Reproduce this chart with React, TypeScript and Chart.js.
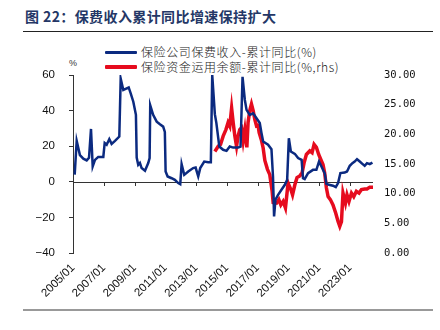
import React, { useEffect, useRef } from "react";
import { Chart, registerables } from "chart.js";

Chart.register(...registerables);

// 保险公司保费收入-累计同比(%) — left axis
const premiumDates = [
  2005.11, 2005.24, 2005.45, 2005.67, 2005.89, 2006.04, 2006.17, 2006.28, 2006.43, 2006.64, 2006.97,
  2007.06, 2007.19, 2007.36, 2007.51, 2007.73, 2008.01, 2008.1, 2008.27, 2008.49, 2008.62, 2008.75,
  2008.92, 2009.09, 2009.14, 2009.24, 2009.35, 2009.46, 2009.68, 2009.89, 2009.98, 2010.02, 2010.21,
  2010.44, 2010.65, 2010.86, 2010.97, 2011.02, 2011.15, 2011.41, 2011.62, 2011.84, 2011.97, 2012.06,
  2012.23, 2012.49, 2012.81, 2012.97, 2013.14, 2013.27, 2013.53, 2013.79, 2013.96, 2014.05, 2014.22,
  2014.32, 2014.51, 2014.76, 2014.98, 2015.19, 2015.41, 2015.73, 2015.89, 2016.02, 2016.17, 2016.28,
  2016.49, 2016.71, 2016.93, 2017.14, 2017.25, 2017.36, 2017.68, 2017.9, 2018.0, 2018.07, 2018.16,
  2018.33, 2018.55, 2018.77, 2018.92, 2019.03, 2019.16, 2019.42, 2019.63, 2019.86, 2019.95, 2020.06,
  2020.28, 2020.6, 2020.82, 2020.99, 2021.15, 2021.3, 2021.36, 2021.47, 2021.64, 2021.9, 2022.08,
  2022.23, 2022.38, 2022.66, 2022.81, 2022.99, 2023.16, 2023.31, 2023.46, 2023.64, 2023.81, 2023.96,
  2024.11, 2024.29, 2024.46,
];
const premiumYoY = [
  4, 23, 15, 13, 12, 13.5, 29.7, 8.6, 12.3, 14, 14,
  21.8, 20.8, 24, 21.3, 23, 25.4, 58, 51.6, 52.5, 53, 49.7,
  45, 37.6, 13.6, 9.5, 10.6, 7.7, 6.2, 10.5, 13.3, 43, 37.6,
  33.8, 32.3, 31, 28, 5.8, 3, 2, 1.1, -0.7, -1.3, 9.9,
  3.9, 5.8, 7.7, 8, 3, 7.7, 11.4, 11, 11, 60, 38,
  33, 19.8, 18, 17.4, 19.8, 19.2, 19.2, 19.8, 59, 46, 40.4,
  37.6, 38.5, 35.7, 33, 27.5, 22.6, 20.8, 18.3, 3, -19.5, -10,
  -7.3, -4.5, -1.7, 1.1, 24.5, 17, 15.7, 13.3, 12.3, 2, 1.5,
  4.9, 6.7, 6.7, 11.4, 8.6, 5.8, 4.9, -1.1, -1.7, -2.2, -3,
  -0.7, 4.9, 5.2, 5.8, 9, 10.5, 11.4, 12.7, 11.4, 10.1, 9,
  10.5, 9.9, 10.8,
];

// 保险资金运用余额-累计同比(%,rhs) — right axis
const fundDates = [
  2014.22, 2014.44, 2014.59, 2014.76, 2014.94, 2015.08, 2015.19, 2015.31, 2015.41, 2015.52, 2015.63,
  2015.73, 2015.84, 2015.95, 2016.06, 2016.17, 2016.3, 2016.38, 2016.49, 2016.6, 2016.71, 2016.82,
  2016.93, 2017.03, 2017.1, 2017.25, 2017.36, 2017.47, 2017.64, 2017.79, 2017.94, 2018.01, 2018.23,
  2018.38, 2018.51, 2018.66, 2018.81, 2018.98, 2019.16, 2019.27, 2019.42, 2019.56, 2019.74, 2019.89,
  2020.02, 2020.17, 2020.39, 2020.54, 2020.67, 2020.82, 2020.97, 2021.1, 2021.25, 2021.36, 2021.47,
  2021.58, 2021.73, 2021.9, 2022.08, 2022.23, 2022.34, 2022.45, 2022.55, 2022.71, 2022.81, 2022.94,
  2023.1, 2023.25, 2023.42, 2023.59, 2023.75, 2023.96, 2024.11, 2024.29, 2024.5,
];
const fundYoY = [
  17.1, 18, 18.3, 19.7, 20.8, 22, 21.4, 24.4, 22, 19.7, 18,
  19.7, 20.8, 21.1, 18.9, 20.8, 17.8, 22, 24, 25.1, 24, 22.5,
  21.4, 21.5, 20.3, 19, 17.7, 15.6, 14.1, 13.2, 10.5, 8.5, 8.4,
  9, 8.1, 8.7, 7.6, 11.8, 10.7, 9.8, 11.5, 12.7, 13, 13.5,
  15.2, 16.6, 17.2, 16.9, 18.3, 17.8, 16.6, 15.8, 14.9, 13.5, 11,
  9.5, 9, 8.1, 6.7, 5.3, 4.5, 5.3, 10.1, 8.4, 9.8, 8.7,
  10.1, 9.5, 10.4, 10.1, 10.7, 10.8, 10.8, 11.1, 11.1,
];

const xTickYears = [2005, 2007, 2009, 2011, 2013, 2015, 2017, 2019, 2021, 2023];
const xTickLabels = ["2005/01", "2007/01", "2009/01", "2011/01", "2013/01", "2015/01", "2017/01", "2019/01", "2021/01", "2023/01"];
const leftTickValues = [-40, -20, 0, 20, 40, 60];
const leftTickLabels = ["\u221240", "\u221220", "0", "20", "40", "60"];
const rightTickValues = [0, 5, 10, 15, 20, 25, 30];
const rightTickLabels = ["0.00", "5.00", "10.00", "15.00", "20.00", "25.00", "30.00"];

const seriesNames = ["保险公司保费收入-累计同比(%)", "保险资金运用余额-累计同比(%,rhs)"];
const BLUE = "#0b2a80";
const RED = "#e60b1e";

const zeroLinePlugin = {
  id: "zeroLine",
  beforeDatasetsDraw(chart: any) {
    const { ctx, chartArea, scales } = chart;
    const y0 = scales.yL.getPixelForValue(0);
    ctx.save();
    ctx.strokeStyle = "#333";
    ctx.lineWidth = 1;
    ctx.beginPath();
    ctx.moveTo(chartArea.left, Math.round(y0) + 0.5);
    ctx.lineTo(chartArea.right, Math.round(y0) + 0.5);
    xTickYears.forEach((v) => {
      const x = Math.round(scales.x.getPixelForValue(v)) + 0.5;
      ctx.moveTo(x, Math.round(y0));
      ctx.lineTo(x, Math.round(y0) + 4);
    });
    ctx.stroke();
    ctx.restore();
  },
};

export default function App() {
  const ref = useRef<HTMLCanvasElement | null>(null);

  useEffect(() => {
    if (!ref.current) return;
    const chart = new Chart(ref.current, {
      type: "line",
      data: {
        datasets: [
          {
            label: seriesNames[0],
            data: premiumDates.map((d, i) => ({ x: d, y: premiumYoY[i] })),
            borderColor: BLUE,
            backgroundColor: BLUE,
            borderWidth: 2.5,
            pointRadius: 0,
            tension: 0,
            yAxisID: "yL",
          },
          {
            label: seriesNames[1],
            data: fundDates.map((d, i) => ({ x: d, y: fundYoY[i] })),
            borderColor: RED,
            backgroundColor: RED,
            borderWidth: 3.5,
            pointRadius: 0,
            tension: 0,
            yAxisID: "yR",
          },
        ],
      },
      options: {
        animation: false,
        responsive: false,
        devicePixelRatio: 1,
        layout: { padding: { top: 75, left: 0, right: 0, bottom: 0 } },
        plugins: { legend: { display: false }, tooltip: { enabled: false } },
        scales: {
          x: {
            type: "linear",
            min: 2005,
            max: 2024.5,
            afterBuildTicks: (axis: any) => {
              axis.ticks = xTickYears.map((v) => ({ value: v }));
            },
            afterFit: (s: any) => {
              s.height = 77;
            },
            grid: { display: false, drawTicks: false },
            border: { display: false },
            ticks: {
              autoSkip: false,
              maxRotation: 45,
              minRotation: 45,
              padding: 8,
              color: "#111",
              font: { family: "Liberation Sans", size: 11.5 },
              callback: (v: any) => {
                const i = xTickYears.indexOf(Number(v));
                return i >= 0 ? xTickLabels[i] : "";
              },
            },
          },
          yL: {
            type: "linear",
            position: "left",
            min: -40,
            max: 60,
            afterBuildTicks: (axis: any) => {
              axis.ticks = leftTickValues.map((v) => ({ value: v }));
            },
            afterFit: (s: any) => {
              s.width = 73;
            },
            grid: { drawOnChartArea: false, drawTicks: true, tickLength: 4, color: "#333" },
            border: { display: true, color: "#333", width: 1 },
            ticks: {
              padding: 14,
              color: "#111",
              font: { family: "Liberation Sans", size: 11.5 },
              callback: (v: any) => {
                const i = leftTickValues.indexOf(Number(v));
                return i >= 0 ? leftTickLabels[i] : "";
              },
            },
          },
          yR: {
            type: "linear",
            position: "right",
            min: 0,
            max: 30,
            afterBuildTicks: (axis: any) => {
              axis.ticks = rightTickValues.map((v) => ({ value: v }));
            },
            afterFit: (s: any) => {
              s.width = 67;
            },
            grid: { display: false, drawTicks: false },
            border: { display: false },
            ticks: {
              padding: 11,
              color: "#111",
              font: { family: "DejaVu Sans Mono", size: 10.5 },
              callback: (v: any) => {
                const i = rightTickValues.indexOf(Number(v));
                return i >= 0 ? rightTickLabels[i] : "";
              },
            },
          },
        },
      },
      plugins: [zeroLinePlugin],
    });
    return () => chart.destroy();
  }, []);

  const legendRow = (color: string, width: number, text: string, top: number) => (
    <div style={{ position: "absolute", left: 105, top, height: 14, display: "flex", alignItems: "center" }}>
      <div style={{ width: 32, height: width, background: color, borderRadius: 1 }} />
      <span
        style={{
          marginLeft: 4,
          fontFamily: "'Noto Sans CJK SC', sans-serif",
          fontSize: 12,
          fontWeight: 300,
          color: "#222",
          letterSpacing: 0.6,
          whiteSpace: "nowrap",
          lineHeight: "14px",
        }}
      >
        {text}
      </span>
    </div>
  );

  return (
    <div style={{ position: "fixed", left: 0, top: 0, width: 440, height: 330, background: "#fff", overflow: "hidden" }}>
      <div
        style={{
          position: "absolute",
          left: 25,
          top: 7,
          fontFamily: "'Noto Sans CJK SC', sans-serif",
          fontWeight: 700,
          fontSize: 14,
          letterSpacing: 0.4,
          color: "#243766",
          whiteSpace: "nowrap",
          lineHeight: "18px",
        }}
      >
        图 22：保费收入累计同比增速保持扩大
      </div>
      <div style={{ position: "absolute", left: 23, top: 31, width: 410, height: 1, background: "#222" }} />
      <div style={{ position: "absolute", left: 23, top: 309, width: 410, height: 2, background: "#999" }} />
      {legendRow(BLUE, 3, seriesNames[0], 45)}
      {legendRow(RED, 4, seriesNames[1], 60)}
      <div
        style={{
          position: "absolute",
          left: 69,
          top: 58,
          fontFamily: "Liberation Sans, sans-serif",
          fontSize: 9,
          color: "#333",
        }}
      >
        %
      </div>
      <canvas ref={ref} width={440} height={330} style={{ position: "absolute", left: 0, top: 0, width: 440, height: 330 }} />
    </div>
  );
}
